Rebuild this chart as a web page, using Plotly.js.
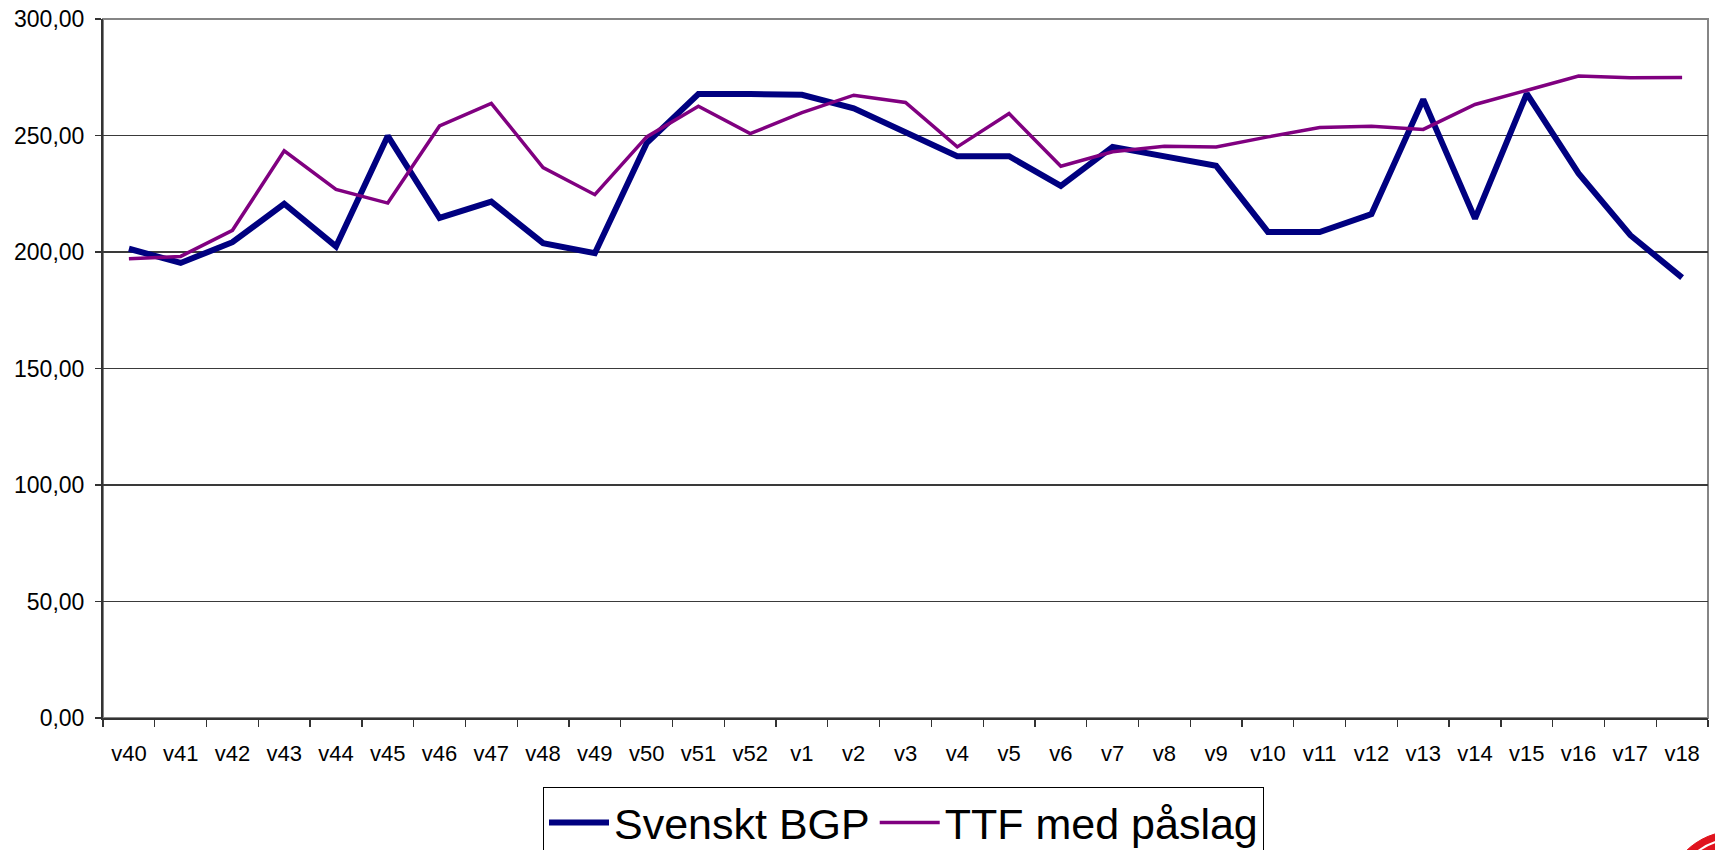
<!DOCTYPE html>
<html>
<head>
<meta charset="utf-8">
<script src="https://cdn.plot.ly/plotly-3.0.1.min.js"></script>
<style>
  html, body { margin: 0; padding: 0; background: #fff; }
  #chart { width: 1715px; height: 850px; }
</style>
</head>
<body>
<div id="chart"></div>
<script>
const weeks = ["v40","v41","v42","v43","v44","v45","v46","v47","v48","v49","v50","v51","v52",
  "v1","v2","v3","v4","v5","v6","v7","v8","v9","v10","v11","v12","v13","v14","v15","v16","v17","v18"];
const svensktBGP = [201.4,195.3,204.2,220.7,202.4,249.8,214.6,221.6,203.8,199.5,246.7,267.8,267.8,
  267.5,261.7,251.2,241.1,241.1,228.4,245.1,241.0,237.0,208.6,208.6,216.3,265.5,214.3,268.0,233.7,207.2,189.0];
const ttfMedPaslag = [197.1,198.1,209.3,243.4,226.9,221.0,254.1,263.8,236.2,224.6,249.4,262.6,250.8,
  259.8,267.3,264.2,245.1,259.4,236.8,243.0,245.4,245.1,249.4,253.4,254.0,252.6,263.3,269.5,275.5,274.8,274.9];
const seriesNames = ["Svenskt BGP", "TTF med påslag"];
const yTicks = [0, 50, 100, 150, 200, 250, 300];

const FONT = "Liberation Sans, Arial, sans-serif";
const W = 1715, H = 850;
const L = 103, R = 7, T = 19, B = 132;
const pw = W - L - R, ph = H - T - B;
const px = v => (v - L) / pw;
const py = v => (H - B - v) / ph;

const traces = [
  { x: weeks, y: svensktBGP, name: seriesNames[0], type: "scatter", mode: "lines",
    line: { color: "#000080", width: 6 }, hoverinfo: "x+y" },
  { x: weeks, y: ttfMedPaslag, name: seriesNames[1], type: "scatter", mode: "lines",
    line: { color: "#800080", width: 3.5 }, hoverinfo: "x+y" }
];

const layout = {
  width: W, height: H,
  margin: { l: L, r: R, t: T, b: B, pad: 0, autoexpand: false },
  paper_bgcolor: "#fff", plot_bgcolor: "#fff",
  separators: ", ",
  font: { family: FONT, color: "#000", size: 21 },
  showlegend: true,
  xaxis: {
    type: "category", range: [-0.5, weeks.length - 0.5], automargin: false,
    tickson: "boundaries", ticks: "outside", ticklen: 7, tickcolor: "#333", tickwidth: 1.3,
    showgrid: false, showline: true, linecolor: "#333", linewidth: 2,
    tickfont: { family: FONT, size: 22, color: "#000" }, ticklabelstandoff: 15,
    fixedrange: true
  },
  yaxis: {
    range: [0, 300], tickmode: "array", tickvals: yTicks, tickformat: ".2f", automargin: false,
    ticks: "outside", ticklen: 6, tickcolor: "#333", tickwidth: 1.3,
    showgrid: true, gridcolor: "#3a3a3a", gridwidth: 1.2,
    showline: true, linecolor: "#333", linewidth: 2, zeroline: false,
    tickfont: { family: FONT, size: 23, color: "#000" }, ticklabelstandoff: 6,
    fixedrange: true
  },
  legend: {
    orientation: "h", xref: "container", yref: "container",
    x: 543 / W, y: 1 - 787 / H, xanchor: "left", yanchor: "top",
    font: { family: FONT, size: 43, color: "#000" },
    bordercolor: "#000", borderwidth: 1, bgcolor: "#fff",
    itemwidth: 60, tracegroupgap: 0
  },
  shapes: [
    { type: "rect", xref: "paper", yref: "paper", x0: 0, x1: 1, y0: 0, y1: 1,
      line: { color: "#858585", width: 2 }, layer: "between" },
    { type: "circle", xref: "paper", yref: "paper",
      x0: px(1665), x1: px(1805), y0: py(831), y1: py(971),
      fillcolor: "#e0141e", line: { color: "#e0141e", width: 1 }, layer: "above" },
    { type: "circle", xref: "paper", yref: "paper",
      x0: px(1673), x1: px(1797), y0: py(839), y1: py(963),
      fillcolor: "rgba(0,0,0,0)", line: { color: "#ffffff", width: 2 }, layer: "above" }
  ]
};

Plotly.newPlot("chart", traces, layout, { displayModeBar: false, staticPlot: true });
</script>
</body>
</html>
